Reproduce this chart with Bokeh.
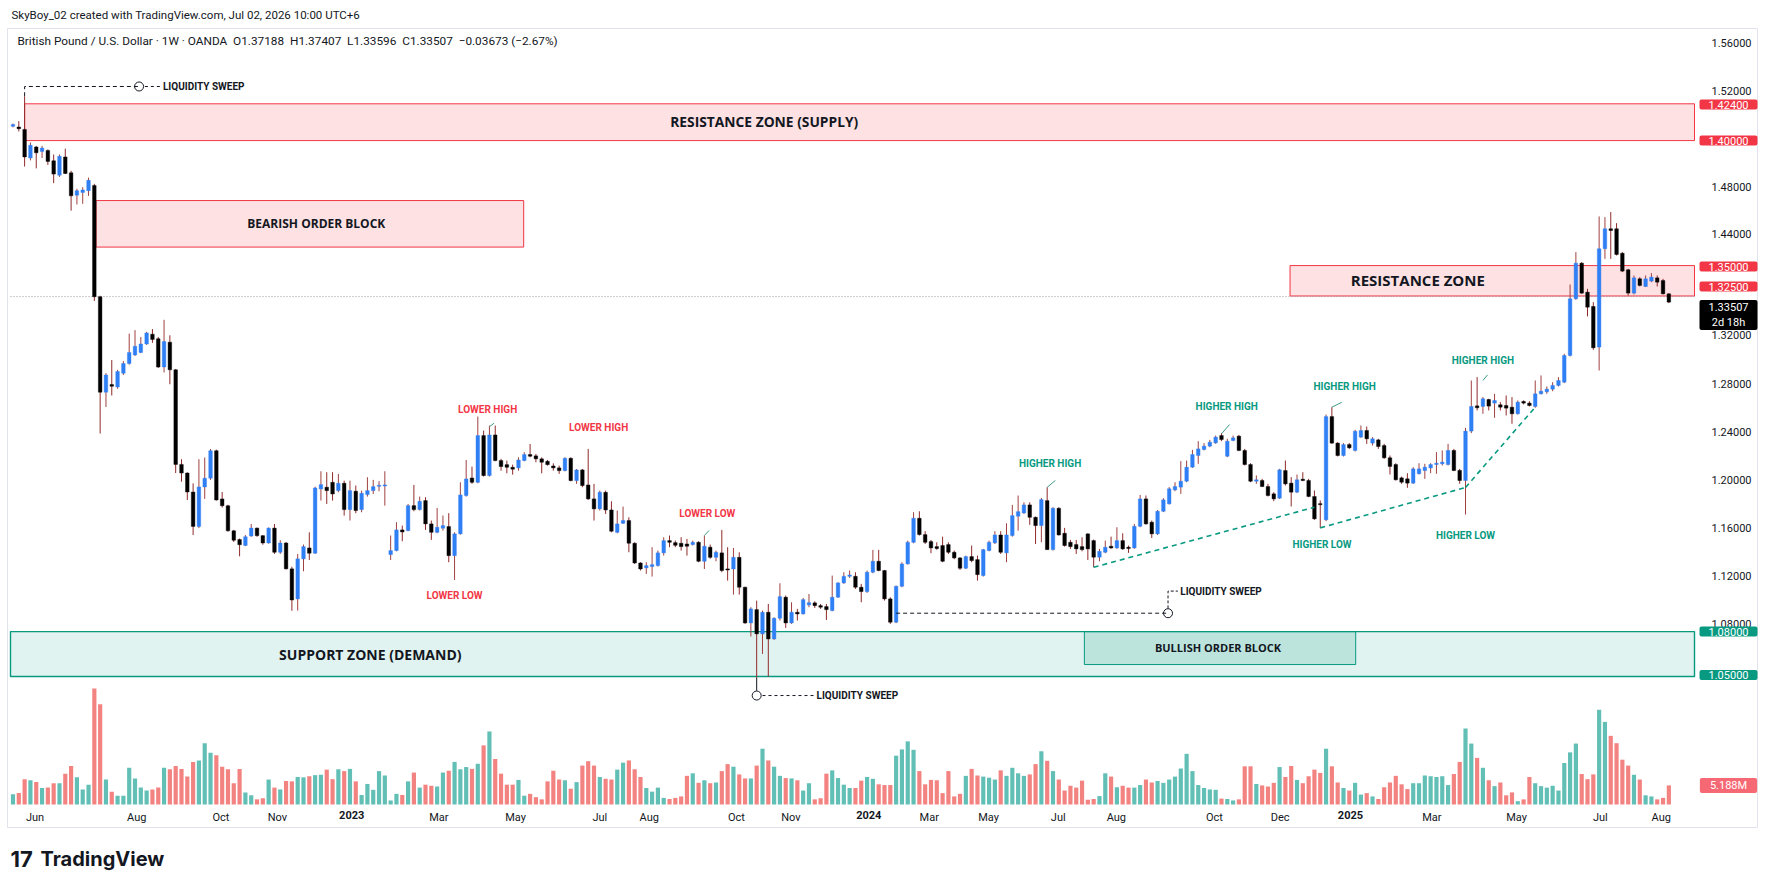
from bokeh.plotting import figure
from bokeh.models import Range1d, FixedTicker, Label, ColumnDataSource, LinearAxis
from bokeh.embed import file_html
from bokeh.resources import INLINE

# ---------------- data (weekly candles) ----------------
open_ = [
 1.4940, 1.4934, 1.4914, 1.4676, 1.4768, 1.4731, 1.4739, 1.4653, 1.4533, 1.4685,
 1.4553, 1.4367, 1.4390, 1.4404, 1.4447, 1.3522, 1.2728, 1.2791, 1.2771, 1.2886,
 1.2966, 1.3038, 1.3058, 1.3129, 1.3210, 1.3172, 1.2937, 1.3144, 1.2914, 1.2127,
 1.2055, 1.1897, 1.1611, 1.1940, 1.2012, 1.2241, 1.1840, 1.1783, 1.1574, 1.1502,
 1.1453, 1.1531, 1.1597, 1.1534, 1.1473, 1.1597, 1.1396, 1.1473, 1.1258, 1.1008,
 1.1341, 1.1432, 1.1388, 1.1923, 1.1937, 1.1978, 1.1909, 1.1970, 1.1751, 1.1904,
 1.1751, 1.1876, 1.1909, 1.1945, 1.1948, 1.1377, 1.1410, 1.1582, 1.1576, 1.1784,
 1.1751, 1.1826, 1.1632, 1.1562, 1.1596, 1.1610, 1.1368, 1.1549, 1.1868, 1.2014,
 1.1978, 1.2367, 1.2034, 1.2372, 1.2159, 1.2125, 1.2103, 1.2098, 1.2159, 1.2209,
 1.2198, 1.2173, 1.2153, 1.2114, 1.2098, 1.2075, 1.2178, 1.1992, 1.2081, 1.1956,
 1.1840, 1.1757, 1.1895, 1.1748, 1.1562, 1.1637, 1.1660, 1.1471, 1.1307, 1.1266,
 1.1277, 1.1285, 1.1391, 1.1493, 1.1476, 1.1471, 1.1465, 1.1460, 1.1479, 1.1321,
 1.1438, 1.1354, 1.1391, 1.1257, 1.1257, 1.1354, 1.1105, 1.0808, 1.0919, 1.0717,
 1.0897, 1.0675, 1.0847, 1.1022, 1.0808, 1.0897, 1.0883, 1.0958, 1.0975, 1.0952,
 1.0944, 1.0911, 1.1022, 1.1141, 1.1196, 1.1196, 1.1105, 1.1069, 1.1230, 1.1321,
 1.1244, 1.1008, 1.0814, 1.1113, 1.1299, 1.1479, 1.1679, 1.1543, 1.1485, 1.1443,
 1.1452, 1.1460, 1.1396, 1.1349, 1.1263, 1.1360, 1.1335, 1.1202, 1.1410, 1.1474,
 1.1540, 1.1391, 1.1535, 1.1696, 1.1723, 1.1790, 1.1687, 1.1618, 1.1826, 1.1418,
 1.1762, 1.1554, 1.1479, 1.1460, 1.1443, 1.1549, 1.1493, 1.1355, 1.1396, 1.1446,
 1.1432, 1.1493, 1.1438, 1.1432, 1.1612, 1.1840, 1.1646, 1.1549, 1.1737, 1.1799,
 1.1915, 1.1938, 1.1987, 1.2104, 1.2201, 1.2251, 1.2279, 1.2306, 1.2367, 1.2195,
 1.2326, 1.2362, 1.2243, 1.2126, 1.1987, 1.1993, 1.1943, 1.1882, 1.1846, 1.2076,
 1.1971, 1.1896, 1.2004, 1.1993, 1.1860, 1.1799, 1.1666, 1.2525, 1.2304, 1.2201,
 1.2292, 1.2243, 1.2354, 1.2409, 1.2304, 1.2331, 1.2284, 1.2182, 1.2126, 1.2015,
 1.2007, 1.1971, 1.2049, 1.2076, 1.2098, 1.2126, 1.2132, 1.2126, 1.2243, 1.2077,
 1.1993, 1.2404, 1.2614, 1.2609, 1.2667, 1.2637, 1.2623, 1.2617, 1.2603, 1.2548,
 1.2651, 1.2637, 1.2609, 1.2714, 1.2731, 1.2753, 1.2784, 1.2811, 1.3033, 1.3505,
 1.3801, 1.3560, 1.3441, 1.3103, 1.3921, 1.4087, 1.4087, 1.3884, 1.3746, 1.3552,
 1.3671, 1.3607, 1.3652, 1.3679, 1.3657, 1.3546,
]
high = [
 1.4963, 1.4983, 1.5190, 1.4805, 1.4777, 1.4777, 1.4748, 1.4705, 1.4705, 1.4754,
 1.4570, 1.4419, 1.4433, 1.4513, 1.4461, 1.3530, 1.2886, 1.2995, 1.2914, 1.2986,
 1.3215, 1.3244, 1.3187, 1.3230, 1.3253, 1.3187, 1.3330, 1.3201, 1.2920, 1.2170,
 1.2061, 1.1969, 1.2170, 1.2184, 1.2255, 1.2250, 1.1897, 1.1791, 1.1582, 1.1510,
 1.1539, 1.1631, 1.1602, 1.1539, 1.1602, 1.1631, 1.1496, 1.1482, 1.1276, 1.1382,
 1.1460, 1.1562, 1.1942, 1.2070, 1.2062, 1.2062, 1.2048, 1.1992, 1.1992, 1.1951,
 1.1909, 1.2020, 1.1998, 1.1987, 1.2070, 1.1535, 1.1646, 1.1618, 1.1798, 1.1956,
 1.1859, 1.1854, 1.1660, 1.1765, 1.1701, 1.1721, 1.1562, 1.1978, 1.2164, 1.2109,
 1.2525, 1.2408, 1.2450, 1.2450, 1.2173, 1.2159, 1.2125, 1.2186, 1.2228, 1.2297,
 1.2214, 1.2186, 1.2164, 1.2136, 1.2117, 1.2186, 1.2186, 1.2089, 1.2089, 1.2256,
 1.1965, 1.1909, 1.1909, 1.1820, 1.1743, 1.1776, 1.1687, 1.1479, 1.1313, 1.1313,
 1.1438, 1.1410, 1.1521, 1.1535, 1.1493, 1.1521, 1.1507, 1.1493, 1.1488, 1.1535,
 1.1460, 1.1410, 1.1582, 1.1438, 1.1432, 1.1396, 1.1110, 1.0939, 1.0994, 1.0911,
 1.0966, 1.0855, 1.1138, 1.1036, 1.0980, 1.0925, 1.1016, 1.1049, 1.0988, 1.0966,
 1.0966, 1.1202, 1.1147, 1.1230, 1.1244, 1.1230, 1.1133, 1.1244, 1.1416, 1.1416,
 1.1249, 1.1022, 1.1119, 1.1313, 1.1493, 1.1729, 1.1737, 1.1571, 1.1499, 1.1479,
 1.1526, 1.1479, 1.1410, 1.1355, 1.1368, 1.1452, 1.1368, 1.1424, 1.1493, 1.1571,
 1.1571, 1.1637, 1.1790, 1.1868, 1.1812, 1.1812, 1.1693, 1.1848, 1.1937, 1.1771,
 1.1771, 1.1599, 1.1499, 1.1499, 1.1521, 1.1554, 1.1502, 1.1424, 1.1493, 1.1526,
 1.1604, 1.1554, 1.1452, 1.1632, 1.1873, 1.1868, 1.1660, 1.1748, 1.1846, 1.1938,
 1.1979, 1.2154, 1.2159, 1.2248, 1.2320, 1.2304, 1.2331, 1.2367, 1.2387, 1.2340,
 1.2367, 1.2373, 1.2256, 1.2137, 1.2035, 1.2007, 1.1965, 1.1896, 1.2090, 1.2159,
 1.2021, 1.2043, 1.2062, 1.2007, 1.1910, 1.1827, 1.2542, 1.2603, 1.2312, 1.2304,
 1.2304, 1.2415, 1.2451, 1.2442, 1.2354, 1.2340, 1.2298, 1.2201, 1.2137, 1.2026,
 1.2054, 1.2104, 1.2137, 1.2132, 1.2137, 1.2229, 1.2243, 1.2298, 1.2256, 1.2090,
 1.2431, 1.2825, 1.2853, 1.2687, 1.2673, 1.2714, 1.2645, 1.2700, 1.2687, 1.2659,
 1.2659, 1.2653, 1.2825, 1.2867, 1.2775, 1.2811, 1.2853, 1.3047, 1.3624, 1.3893,
 1.3810, 1.3588, 1.3477, 1.4190, 1.4184, 1.4226, 1.4134, 1.3893, 1.3754, 1.3699,
 1.3685, 1.3699, 1.3718, 1.3699, 1.3671, 1.3552,
]
low = [
 1.4931, 1.4897, 1.4605, 1.4656, 1.4590, 1.4676, 1.4619, 1.4467, 1.4519, 1.4542,
 1.4238, 1.4290, 1.4295, 1.4361, 1.3487, 1.2384, 1.2605, 1.2700, 1.2757, 1.2871,
 1.2957, 1.3029, 1.3052, 1.3121, 1.3138, 1.2929, 1.2892, 1.2794, 1.2055, 1.1983,
 1.1831, 1.1539, 1.1597, 1.1840, 1.1998, 1.1826, 1.1768, 1.1568, 1.1482, 1.1362,
 1.1447, 1.1525, 1.1525, 1.1459, 1.1468, 1.1382, 1.1382, 1.1253, 1.0909, 1.0911,
 1.1238, 1.1332, 1.1382, 1.1826, 1.1798, 1.1826, 1.1895, 1.1701, 1.1660, 1.1721,
 1.1729, 1.1859, 1.1881, 1.1904, 1.1784, 1.1332, 1.1404, 1.1488, 1.1571, 1.1737,
 1.1743, 1.1582, 1.1499, 1.1554, 1.1576, 1.1313, 1.1166, 1.1543, 1.1859, 1.1965,
 1.1970, 1.2026, 1.2026, 1.2153, 1.2075, 1.2053, 1.2042, 1.2075, 1.2153, 1.2186,
 1.2145, 1.2053, 1.2117, 1.2075, 1.2048, 1.2070, 1.1987, 1.1965, 1.1937, 1.1831,
 1.1660, 1.1743, 1.1715, 1.1562, 1.1554, 1.1632, 1.1396, 1.1299, 1.1244, 1.1216,
 1.1194, 1.1277, 1.1368, 1.1438, 1.1438, 1.1410, 1.1368, 1.1452, 1.1313, 1.1257,
 1.1341, 1.1321, 1.1230, 1.1160, 1.1044, 1.1044, 1.0800, 1.0695, 1.0351, 1.0550,
 1.0362, 1.0667, 1.0828, 1.0767, 1.0800, 1.0828, 1.0878, 1.0939, 1.0933, 1.0925,
 1.0833, 1.0905, 1.1016, 1.1133, 1.1183, 1.1091, 1.0980, 1.1058, 1.1221, 1.1238,
 1.0994, 1.0800, 1.0806, 1.1105, 1.1294, 1.1471, 1.1535, 1.1465, 1.1388, 1.1416,
 1.1313, 1.1382, 1.1338, 1.1249, 1.1255, 1.1313, 1.1160, 1.1194, 1.1404, 1.1465,
 1.1382, 1.1313, 1.1526, 1.1576, 1.1715, 1.1624, 1.1465, 1.1479, 1.1416, 1.1410,
 1.1535, 1.1443, 1.1424, 1.1382, 1.1404, 1.1332, 1.1271, 1.1321, 1.1388, 1.1424,
 1.1424, 1.1416, 1.1391, 1.1424, 1.1604, 1.1626, 1.1515, 1.1540, 1.1730, 1.1793,
 1.1904, 1.1882, 1.1979, 1.2098, 1.2132, 1.2243, 1.2270, 1.2298, 1.2320, 1.2187,
 1.2320, 1.2237, 1.2118, 1.1979, 1.1965, 1.1938, 1.1860, 1.1821, 1.1840, 1.1951,
 1.1777, 1.1888, 1.1987, 1.1854, 1.1666, 1.1599, 1.1655, 1.2298, 1.2193, 1.2193,
 1.2256, 1.2234, 1.2348, 1.2298, 1.2284, 1.2256, 1.2173, 1.2043, 1.1993, 1.1965,
 1.1932, 1.1965, 1.2043, 1.2007, 1.2054, 1.2049, 1.2118, 1.2118, 1.2071, 1.1966,
 1.1710, 1.2387, 1.2576, 1.2548, 1.2576, 1.2515, 1.2576, 1.2534, 1.2465, 1.2542,
 1.2626, 1.2609, 1.2598, 1.2709, 1.2714, 1.2736, 1.2775, 1.2803, 1.3025, 1.3496,
 1.3546, 1.3358, 1.3080, 1.2908, 1.3837, 1.3837, 1.3865, 1.3727, 1.3532, 1.3541,
 1.3607, 1.3602, 1.3643, 1.3607, 1.3541, 1.3469,
]
close = [
 1.4954, 1.4920, 1.4685, 1.4782, 1.4719, 1.4759, 1.4648, 1.4542, 1.4691, 1.4547,
 1.4361, 1.4404, 1.4410, 1.4490, 1.3522, 1.2728, 1.2871, 1.2777, 1.2900, 1.2966,
 1.3058, 1.3109, 1.3129, 1.3221, 1.3167, 1.2937, 1.3149, 1.2914, 1.2127, 1.2055,
 1.1897, 1.1611, 1.1940, 1.2012, 1.2241, 1.1831, 1.1783, 1.1574, 1.1496, 1.1459,
 1.1525, 1.1597, 1.1534, 1.1473, 1.1597, 1.1396, 1.1473, 1.1258, 1.0999, 1.1341,
 1.1443, 1.1388, 1.1931, 1.1959, 1.1909, 1.1881, 1.1970, 1.1751, 1.1909, 1.1743,
 1.1887, 1.1909, 1.1942, 1.1953, 1.1956, 1.1410, 1.1582, 1.1565, 1.1784, 1.1751,
 1.1820, 1.1632, 1.1562, 1.1604, 1.1618, 1.1368, 1.1549, 1.1873, 1.2006, 1.1978,
 1.2367, 1.2034, 1.2372, 1.2159, 1.2109, 1.2103, 1.2087, 1.2164, 1.2209, 1.2195,
 1.2173, 1.2145, 1.2125, 1.2098, 1.2075, 1.2178, 1.1992, 1.2081, 1.1951, 1.1840,
 1.1757, 1.1895, 1.1748, 1.1571, 1.1632, 1.1660, 1.1471, 1.1307, 1.1257, 1.1285,
 1.1293, 1.1391, 1.1493, 1.1479, 1.1454, 1.1443, 1.1446, 1.1479, 1.1321, 1.1446,
 1.1354, 1.1396, 1.1244, 1.1249, 1.1354, 1.1105, 1.0808, 1.0925, 1.0717, 1.0897,
 1.0675, 1.0847, 1.1027, 1.0808, 1.0897, 1.0883, 1.1002, 1.0977, 1.0952, 1.0939,
 1.0919, 1.1022, 1.1141, 1.1196, 1.1207, 1.1105, 1.1069, 1.1230, 1.1321, 1.1244,
 1.1008, 1.0814, 1.1113, 1.1299, 1.1479, 1.1679, 1.1543, 1.1479, 1.1432, 1.1427,
 1.1321, 1.1396, 1.1349, 1.1263, 1.1360, 1.1327, 1.1210, 1.1418, 1.1479, 1.1540,
 1.1396, 1.1540, 1.1701, 1.1734, 1.1790, 1.1687, 1.1618, 1.1834, 1.1418, 1.1762,
 1.1540, 1.1452, 1.1443, 1.1424, 1.1418, 1.1424, 1.1355, 1.1404, 1.1438, 1.1432,
 1.1493, 1.1424, 1.1427, 1.1612, 1.1840, 1.1632, 1.1549, 1.1737, 1.1832, 1.1924,
 1.1943, 1.1987, 1.2104, 1.2209, 1.2256, 1.2279, 1.2312, 1.2354, 1.2334, 1.2320,
 1.2348, 1.2243, 1.2126, 1.1987, 1.1999, 1.1943, 1.1868, 1.1840, 1.2082, 1.1965,
 1.1896, 1.1999, 1.1993, 1.1860, 1.1674, 1.1793, 1.2525, 1.2304, 1.2201, 1.2292,
 1.2265, 1.2403, 1.2409, 1.2340, 1.2340, 1.2276, 1.2182, 1.2110, 1.1999, 1.1979,
 1.1971, 1.2090, 1.2090, 1.2104, 1.2126, 1.2137, 1.2146, 1.2243, 1.2076, 1.1993,
 1.2404, 1.2609, 1.2598, 1.2673, 1.2612, 1.2659, 1.2603, 1.2595, 1.2548, 1.2645,
 1.2637, 1.2617, 1.2714, 1.2736, 1.2753, 1.2784, 1.2825, 1.3033, 1.3505, 1.3801,
 1.3552, 1.3435, 1.3097, 1.3921, 1.4087, 1.4073, 1.3873, 1.3735, 1.3552, 1.3679,
 1.3616, 1.3671, 1.3685, 1.3643, 1.3546, 1.3477,
]
# volume in millions
volume_m = [
 2.8,
 3.1, 6.9, 6.6, 6.1, 4.5, 4.6, 5.8, 5.8, 8.4, 10.5,
 7.4, 4.1, 5.4, 31.6, 27.3, 6.8, 3.5, 2.4, 2.4, 10.0,
 7.1, 4.6, 3.8, 4.1, 4.6, 10.0, 9.6, 10.5, 9.7, 7.6,
 11.6, 12.0, 16.7, 14.1, 13.4, 10.3, 9.6, 5.8, 9.7, 3.3,
 2.5, 1.4, 1.7, 6.8, 4.6, 4.1, 6.4, 6.3, 7.5, 7.4,
 7.7, 8.0, 8.1, 9.5, 6.9, 9.6, 9.1, 9.7, 6.3, 2.6,
 5.6, 4.0, 9.1, 7.9, 1.1, 2.9, 2.6, 6.3, 8.7, 4.6,
 5.4, 5.1, 4.9, 8.7, 9.2, 11.6, 9.6, 10.2, 9.7, 11.1,
 16.1, 19.9, 12.4, 8.4, 5.4, 5.4, 6.7, 2.4, 2.9, 2.0,
 1.4, 6.3, 9.2, 6.8, 6.6, 4.3, 6.1, 10.6, 11.8, 10.6,
 7.5, 7.0, 6.8, 9.5, 11.4, 12.0, 9.6, 7.5, 4.5, 3.5,
 4.6, 1.8, 1.5, 1.8, 2.2, 7.8, 8.5, 5.9, 6.6, 5.8,
 6.0, 9.1, 11.0, 10.3, 8.2, 7.1, 7.1, 10.6, 15.2, 12.0,
 10.3, 7.8, 7.2, 7.1, 6.6, 3.8, 5.8, 1.4, 1.7, 8.4,
 9.3, 7.2, 5.4, 4.5, 4.5, 6.5, 7.5, 7.0, 5.5, 5.3,
 5.3, 13.3,
 15.0, 17.2, 14.9, 9.1, 5.5, 6.7, 6.6, 3.1, 9.1, 2.2,
 2.9, 7.8, 9.7, 7.9, 7.6, 7.3, 6.8, 9.3, 7.8, 10.0,
 8.5, 7.8, 8.2, 11.0, 14.5, 11.9, 9.1, 6.8, 3.8, 5.1,
 4.6, 6.5, 1.3, 1.5, 2.3, 8.5, 7.6, 4.7, 5.1, 4.6,
 4.6, 5.3, 6.8, 6.0, 6.4, 5.9, 6.8, 7.6, 9.8, 13.8,
 9.1, 5.3, 4.5, 4.1, 4.0, 1.6, 1.5, 1.1, 1.4, 10.4,
 10.4, 5.6, 5.2, 4.9, 5.9, 10.2, 7.5, 10.5, 6.7, 5.8,
 7.7, 9.5, 8.6, 15.2, 10.4, 6.0, 4.5, 3.8, 5.9, 2.7,
 3.1, 2.2, 1.5, 4.7, 6.0, 7.8, 5.5, 4.2, 5.8, 5.8, 7.9,
 7.7, 7.5, 7.7, 5.3, 8.3, 11.6, 20.7, 16.6, 12.7, 10.0,
 6.6, 5.0, 6.0, 2.5, 3.3, 0.9, 1.4, 7.5, 5.8, 5.0,
 4.6, 5.1, 3.8, 11.3, 14.2, 16.6, 8.3, 6.9, 8.2, 25.8,
 22.5, 18.7, 16.7, 12.2, 10.6, 8.1, 6.8, 2.5, 2.2, 1.4,
 1.8, 5.2,
]

month_tick_pos = [3.8, 21.3, 35.8, 45.5, 58.3, 73.3, 86.5, 101.0, 109.5, 124.5, 133.9, 147.3,
                  157.7, 167.9, 179.9, 189.9, 206.8, 218.1, 230.2, 244.2, 258.8, 273.2, 283.7]
month_tick_labels = ["Jun", "Aug", "Oct", "Nov", "2023", "Mar", "May", "Jul", "Aug", "Oct", "Nov", "2024",
                     "Mar", "May", "Jul", "Aug", "Oct", "Dec", "2025", "Mar", "May", "Jul", "Aug"]
price_tick_pos = [1.5633, 1.5233, 1.4434, 1.4043, 1.32, 1.28, 1.24, 1.20, 1.16, 1.12, 1.08]
price_tick_labels = ["1.56000", "1.52000", "1.48000", "1.44000", "1.32000", "1.28000",
                     "1.24000", "1.20000", "1.16000", "1.12000", "1.08000"]

zone_names = ["RESISTANCE ZONE (SUPPLY)", "BEARISH ORDER BLOCK", "RESISTANCE ZONE",
              "SUPPORT ZONE (DEMAND)", "BULLISH ORDER BLOCK"]
zone_left = [2.0, 14.3, 219.8, None, 184.4]      # None = from the chart's left edge
zone_right = [None, 87.9, None, None, 231.1]     # None = up to the price scale
zone_bottom = [1.4821, 1.3935, 1.3528, 1.0362, 1.0462]
zone_top = [1.5127, 1.4322, 1.3781, 1.0736, 1.0736]
zone_label_x = [129.3, 52.2, 241.8, 61.5, 207.4]
zone_label_y = [1.4979, 1.4131, 1.3657, 1.0545, 1.0603]

struct_text = ["LOWER HIGH", "LOWER HIGH", "LOWER LOW", "LOWER LOW", "HIGHER HIGH",
               "HIGHER HIGH", "HIGHER HIGH", "HIGHER HIGH", "HIGHER LOW", "HIGHER LOW"]
struct_x = [81.7, 100.8, 76.0, 119.5, 178.5, 208.9, 229.2, 253.0, 225.3, 250.0]
struct_y = [1.2583, 1.2436, 1.1036, 1.1721, 1.2132, 1.2611, 1.2777, 1.2991, 1.1458, 1.1533]

ptr_x0 = [82.0, 119.0, 178.0, 208.0, 227.0, 253.0]
ptr_y0 = [1.2440, 1.1535, 1.1937, 1.2381, 1.2603, 1.2825]
ptr_x1 = [82.8, 119.8, 179.4, 209.4, 228.7, 253.8]
ptr_y1 = [1.2470, 1.1577, 1.1993, 1.2459, 1.2644, 1.2872]

trend_x0 = [186.0, 225.0, 250.0]
trend_y0 = [1.1271, 1.1599, 1.1935]
trend_x1 = [224.0, 250.0, 262.0]
trend_y1 = [1.1771, 1.1935, 1.2603]

# liquidity sweeps
sweepA_x, sweepA_wick, sweepA_level, sweepA_circle_x, sweepA_text_x = 2.0, 1.5190, 1.5271, 21.7, 25.8
sweepB_x, sweepB_low, sweepB_circle_y, sweepB_text_x = 128.0, 1.0351, 1.0204, 138.3
sweepC_x0, sweepC_level, sweepC_circle_x, sweepC_text_x, sweepC_text_y = 152.0, 1.0889, 198.8, 200.9, 1.1073

tag_text = ["1.42400", "1.40000", "1.35000", "1.32500", "1.33507\n2d 18h", "1.08000", "1.05000"]
tag_y = [1.5121, 1.4821, 1.3773, 1.3607, 1.3370, 1.0736, 1.0375]
tag_color = ["#f23645", "#f23645", "#f23645", "#f23645", "#000000", "#089981", "#089981"]
volume_tag_text = "5.188M"
last_price_line = 1.3523

# ---------------- layout constants (pixels of the 1774x887 canvas) ----------------
W, H = 1774, 887
X0, PX_PER_IDX = 12.5, 5.81
PRICE_AT_0, PX_PER_PRICE = 1.59864, 1202.0
CHART_L, CHART_R, CHART_B = 10, 1694, 806
VOL_BASE_PX, VOL_PER_PX = 804, 0.2724


def idx_at(px):
    return (px - X0) / PX_PER_IDX


def price_at(py):
    return PRICE_AT_0 - py / PX_PER_PRICE


N = len(close)
volume_m = volume_m[:N]
xs = list(range(N))
is_up = [c >= o for o, c in zip(open_, close)]
btop, bbot = [], []
for o, c in zip(open_, close):
    t, b = max(o, c), min(o, c)
    if t - b < 0.0009:
        m = (t + b) / 2
        t, b = m + 0.00045, m - 0.00045
    btop.append(t)
    bbot.append(b)

src = ColumnDataSource(dict(
    x=xs, high=high, low=low, top=btop, bottom=bbot,
    body=["#2f7ff5" if u else "#000000" for u in is_up],
    wick=["#a04040" if u else "#8f2a2a" for u in is_up],
    vol=volume_m,
    volc=["#26a69a" if u else "#ef5350" for u in is_up],
))

p = figure(width=W, height=H, output_backend="svg", toolbar_location=None,
           x_range=Range1d(idx_at(0), idx_at(W)),
           y_range=Range1d(price_at(H), price_at(0)),
           y_axis_location="right",
           min_border_left=0, min_border_right=0, min_border_top=0, min_border_bottom=0,
           background_fill_color="white", border_fill_color="white",
           outline_line_color=None)
p.extra_y_ranges = {"vol": Range1d(-(H - VOL_BASE_PX) * VOL_PER_PX, VOL_BASE_PX * VOL_PER_PX)}
p.grid.visible = False


def style_axis(ax, size):
    ax.axis_line_color = None
    ax.major_tick_line_color = None
    ax.minor_tick_line_color = None
    ax.major_tick_out = 0
    ax.major_tick_in = 0
    ax.major_label_text_font = "Roboto"
    ax.major_label_text_color = "#131722"
    ax.major_label_text_font_size = size


# price scale (drawn at the right edge of the chart area)
yax = p.yaxis[0]
yax.fixed_location = idx_at(CHART_R)
yax.ticker = FixedTicker(ticks=price_tick_pos)
yax.major_label_overrides = {t: l for t, l in zip(price_tick_pos, price_tick_labels)}
style_axis(yax, "11px")
yax.major_label_standoff = 17

# time scale: months normal, years bold
m_pos = [t for t, l in zip(month_tick_pos, month_tick_labels) if not l.isdigit()]
m_lab = [l for l in month_tick_labels if not l.isdigit()]
y_pos = [t for t, l in zip(month_tick_pos, month_tick_labels) if l.isdigit()]
y_lab = [l for l in month_tick_labels if l.isdigit()]
xax = p.xaxis[0]
xax.fixed_location = price_at(CHART_B)
xax.ticker = FixedTicker(ticks=m_pos)
xax.major_label_overrides = {t: l for t, l in zip(m_pos, m_lab)}
style_axis(xax, "11px")
xax.major_label_standoff = 4
yr_ax = LinearAxis(fixed_location=price_at(CHART_B), ticker=FixedTicker(ticks=y_pos),
                   major_label_overrides={t: l for t, l in zip(y_pos, y_lab)})
style_axis(yr_ax, "11px")
yr_ax.major_label_text_font_style = "bold"
yr_ax.major_label_standoff = 4
p.add_layout(yr_ax, "below")

# outer chart frame (TradingView panel border)
p.quad(left=[idx_at(7)], right=[idx_at(1757)], top=[price_at(28)], bottom=[price_at(827)],
       fill_alpha=0, line_color="#e0e3eb", line_width=1)

# zones
zl = [idx_at(CHART_L) if v is None else v for v in zone_left]
zr = [idx_at(CHART_R) if v is None else v for v in zone_right]
zsrc = ColumnDataSource(dict(
    left=zl, right=zr, bottom=zone_bottom, top=zone_top,
    fill=["#f23645", "#f23645", "#f23645", "#089981", "#089981"],
    alpha=[0.15, 0.15, 0.15, 0.12, 0.17],
    line=["#f23645", "#f23645", "#f23645", "#089981", "#089981"],
    lw=[1.0, 1.0, 1.0, 1.4, 1.0],
))
p.quad(left="left", right="right", bottom="bottom", top="top", fill_color="fill",
       fill_alpha="alpha", line_color="line", line_width="lw", source=zsrc)

# last price dotted line
p.segment(x0=[idx_at(CHART_L)], y0=[last_price_line], x1=[idx_at(CHART_R)], y1=[last_price_line],
          line_color="#9598a1", line_dash="1 2", line_width=1)

# volume
p.vbar(x="x", top="vol", bottom=0, width=0.72, fill_color="volc", fill_alpha=0.72,
       line_color=None, y_range_name="vol", source=src)

# candles
p.segment(x0="x", y0="low", x1="x", y1="high", line_color="wick", line_width=1, source=src)
p.vbar(x="x", top="top", bottom="bottom", width=0.62, fill_color="body", line_color="body",
       line_width=0.4, source=src)

# trend lines & pointers
p.segment(x0=trend_x0, y0=trend_y0, x1=trend_x1, y1=trend_y1, line_color="#089981",
          line_width=1.6, line_dash="5 4")
p.segment(x0=ptr_x0, y0=ptr_y0, x1=ptr_x1, y1=ptr_y1, line_color="#3f9b85", line_width=1)

# liquidity sweep A
p.line([sweepA_x, sweepA_x, sweepA_circle_x], [sweepA_wick, sweepA_level, sweepA_level],
       line_color="#131722", line_width=1, line_dash="4 3")
p.line([sweepA_circle_x + 1.0, sweepA_text_x - 0.5], [sweepA_level, sweepA_level],
       line_color="#131722", line_width=1, line_dash="3 3")
# liquidity sweep B
p.line([sweepB_x, sweepB_x], [sweepB_low, sweepB_circle_y + 0.004], line_color="#131722", line_width=1)
p.line([sweepB_x + 1.0, sweepB_text_x - 0.5], [sweepB_circle_y, sweepB_circle_y],
       line_color="#131722", line_width=1, line_dash="3 3")
# liquidity sweep C
p.line([sweepC_x0, sweepC_circle_x], [sweepC_level, sweepC_level],
       line_color="#131722", line_width=1, line_dash="4 3")
p.line([sweepC_circle_x, sweepC_circle_x, sweepC_text_x - 0.4],
       [sweepC_level + 0.004, sweepC_text_y, sweepC_text_y],
       line_color="#131722", line_width=1, line_dash="3 2")
p.scatter([sweepA_circle_x, sweepB_x, sweepC_circle_x], [sweepA_level, sweepB_circle_y, sweepC_level],
          marker="circle", size=9, fill_alpha=0, line_color="#131722", line_width=1)


def lab(x, y, text, size, color="#131722", bold=False, align="left", font="Roboto", **kw):
    p.add_layout(Label(x=x, y=y, text=text, text_font_size=size, text_color=color,
                       text_font=font, text_font_style="bold" if bold else "normal",
                       text_align=align, text_baseline="middle", **kw))


lab(sweepA_text_x, sweepA_level, "LIQUIDITY SWEEP", "10px", bold=True)
lab(sweepB_text_x, sweepB_circle_y, "LIQUIDITY SWEEP", "10px", bold=True)
lab(sweepC_text_x, sweepC_text_y, "LIQUIDITY SWEEP", "10px", bold=True)

zone_sizes = ["13.8px", "12px", "15px", "14px", "11px"]
for name, zx, zy, sz in zip(zone_names, zone_label_x, zone_label_y, zone_sizes):
    lab(zx, zy, name, sz, bold=True, align="center", font="Open Sans")

for t, sx, sy in zip(struct_text, struct_x, struct_y):
    lab(sx, sy, t, "10px", color="#f23645" if t.startswith("LOWER") else "#089981",
        bold=True, align="center")

# header & legend
lab(idx_at(11), price_at(14), "SkyBoy_02 created with TradingView.com, Jul 02, 2026 10:00 UTC+6", "11.5px")
lab(idx_at(17), price_at(40),
    "British Pound / U.S. Dollar \u00b7 1W \u00b7 OANDA\u00a0\u00a0O1.37188\u00a0\u00a0H1.37407"
    "\u00a0\u00a0L1.33596\u00a0\u00a0C1.33507\u00a0\u00a0\u22120.03673 (\u22122.67%)",
    "11.8px")

# price tags on the scale
tag_x = idx_at(1728)
for t, ty, tc in zip(tag_text, tag_y, tag_color):
    p.add_layout(Label(x=tag_x, y=ty, text=t, text_font="Roboto", text_font_size="11px",
                       text_color="white", text_align="center", text_baseline="middle",
                       background_fill_color=tc, background_fill_alpha=1.0,
                       padding=dict(left=9, right=9, top=1, bottom=1), border_radius=2,
                       text_line_height=1.15))
p.add_layout(Label(x=tag_x, y=volume_m[-1], y_range_name="vol", text=volume_tag_text,
                   text_font="Roboto", text_font_size="11px", text_color="white",
                   text_align="center", text_baseline="middle",
                   background_fill_color="#f23645", background_fill_alpha=0.75,
                   padding=dict(left=10, right=10, top=1, bottom=1), border_radius=2))

# logo
lab(idx_at(10), price_at(858), "17", "22px", bold=True, font="Inter")
lab(idx_at(40), price_at(858), "TradingView", "20px", bold=True, font="Inter")

open("out.html", "w").write(file_html(p, INLINE))
